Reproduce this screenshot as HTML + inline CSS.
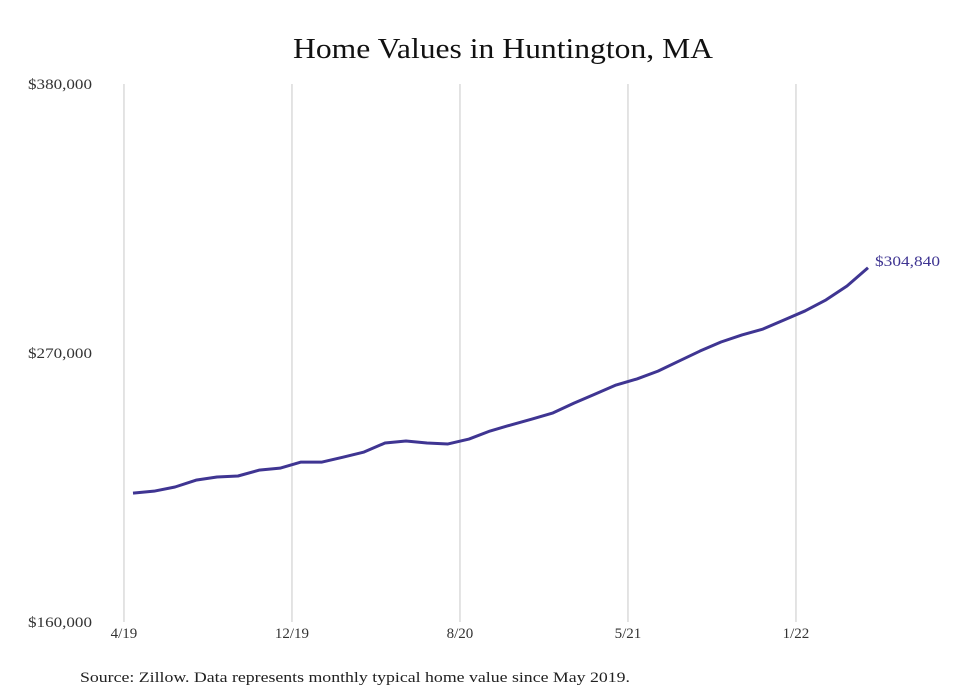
<!DOCTYPE html>
<html><head><meta charset="utf-8"><style>
html,body{margin:0;padding:0;background:#fff;}
svg{display:block;font-family:"Liberation Serif",serif;}
</style></head><body>
<svg id="chart" width="980" height="699" viewBox="0 0 980 699">
<text x="293" y="58" textLength="420" lengthAdjust="spacingAndGlyphs" font-size="29" fill="#111">Home Values in Huntington, MA</text>
<g id="grid"></g><g id="yax"></g><g id="xax"></g><g id="series"></g>
<text x="80" y="682" textLength="550" lengthAdjust="spacingAndGlyphs" font-size="15" fill="#222">Source: Zillow. Data represents monthly typical home value since May 2019.</text>
</svg>
<script>
const values=[212700,213500,215200,218000,219300,219700,222100,222900,225400,225400,227400,229500,233200,234000,233200,232800,234800,238100,240600,243000,245500,249500,253200,256900,259400,262600,266700,270800,274500,277400,279800,283500,287200,291700,297400,304840];
const xTickLabels=["4/19","12/19","8/20","5/21","1/22"];
const xTickIdx=[-0.43,7.57,15.57,23.57,31.57];
const yTicks=[160000,270000,380000];
const yTickLabels=["$160,000","$270,000","$380,000"];
const lastLabel="$304,840";
const NS="http://www.w3.org/2000/svg";
const x=i=>133+i*21;
const y=v=>622-(v-160000)/(220000)*538;
function mk(t,a,p){const e=document.createElementNS(NS,t);for(const k in a)e.setAttribute(k,a[k]);p.appendChild(e);return e;}
const grid=document.getElementById('grid'),yax=document.getElementById('yax'),xax=document.getElementById('xax'),ser=document.getElementById('series');
xTickIdx.forEach((ix,k)=>{
 const l=mk('line',{x1:x(ix),x2:x(ix),y1:84,y2:622,stroke:'#c8c8c8','stroke-width':1},grid);
 
 
 const t=mk('text',{x:x(ix),y:638,'text-anchor':'middle','font-size':15,fill:'#333'},xax);
 t.textContent=xTickLabels[k];
 
 
});
yTicks.forEach((v,k)=>{
 const t=mk('text',{x:28,y:y(v)+5,'font-size':15,fill:'#333',textLength:64,lengthAdjust:'spacingAndGlyphs'},yax);
 t.textContent=yTickLabels[k];
 
 
});
const p=mk('polyline',{points:values.map((v,i)=>x(i)+','+y(v)).join(' '),fill:'none',stroke:'#3f3592','stroke-width':3,'stroke-linejoin':'round'},ser);


const n=values.length-1;
const lt=mk('text',{x:x(n)+7,y:y(values[n])-2,'font-size':15,fill:'#3f3592',textLength:65,lengthAdjust:'spacingAndGlyphs'},ser);
lt.textContent=lastLabel;


</script>
</body></html>
